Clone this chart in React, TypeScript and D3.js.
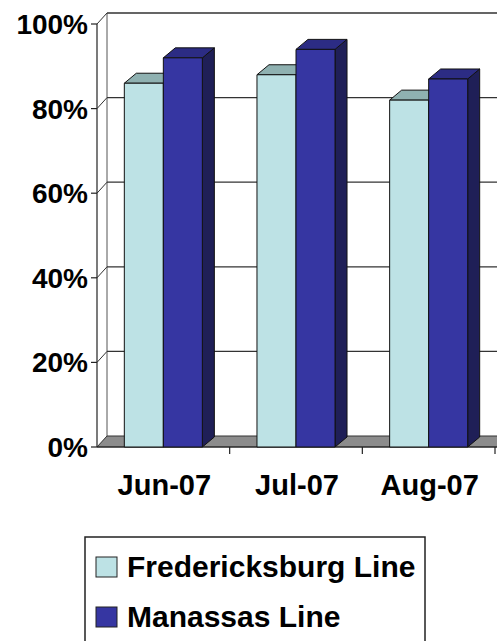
import React from "react";
import * as d3 from "d3";

const months = ["Jun-07", "Jul-07", "Aug-07"];
const seriesNames = ["Fredericksburg Line", "Manassas Line"];
const fredericksburg = [0.86, 0.88, 0.82];
const manassas = [0.92, 0.94, 0.87];
const yTicks = [0, 0.2, 0.4, 0.6, 0.8, 1.0];

const W = 497;
const H = 641;
const FONT = "'Liberation Sans', Arial, sans-serif";

const colors = [
  { front: "#bde2e5", top: "#8fb1b1", side: "#7a9c9c" },
  { front: "#3636a2", top: "#2c2c84", side: "#1f1f57" },
];

export default function App() {
  const y = d3.scaleLinear().domain([0, 1]).range([447, 24]);
  const x0 = d3.scaleBand<string>().domain(months).range([97, 495]).paddingInner(0).paddingOuter(0);
  const x1 = d3
    .scaleBand<string>()
    .domain(seriesNames)
    .range([0, x0.bandwidth()])
    .paddingInner(0)
    .paddingOuter(0.7);

  const wdx = 10, wdy = -11; // wall depth
  const bdx = 12, bdy = -10; // bar depth
  const leftX = x0.range()[0];
  const backX = leftX + wdx;
  const values = [fredericksburg, manassas];

  const fmt = d3.format(".0%");

  return (
    <svg width={W} height={H} style={{ position: "absolute", left: 0, top: 0, background: "#fff" }}>
      {/* back wall top & left edges */}
      <line x1={backX} x2={W} y1={y(1) + wdy} y2={y(1) + wdy} stroke="#333" strokeWidth={1.2} />
      <line x1={backX} x2={backX} y1={y(1) + wdy} y2={y(0) + wdy} stroke="#555" strokeWidth={1} />
      {/* gridlines */}
      {yTicks.filter((t) => t > 0).map((t) => (
        <g key={t}>
          <line x1={backX} x2={W} y1={y(t) + wdy} y2={y(t) + wdy} stroke="#333" strokeWidth={1.2} />
          <line x1={leftX} x2={backX} y1={y(t)} y2={y(t) + wdy} stroke="#333" strokeWidth={1} />
        </g>
      ))}
      {/* floor */}
      <polygon
        points={`${leftX},${y(0)} ${backX},${y(0) + wdy} ${W + 5},${y(0) + wdy} ${W + 5},${y(0)}`}
        fill="#8c8c8c"
        stroke="#333"
        strokeWidth={1}
      />
      {/* left axis */}
      <line x1={leftX} x2={leftX} y1={y(1)} y2={y(0)} stroke="#222" strokeWidth={1.2} />
      {yTicks.map((t) => (
        <g key={"t" + t}>
          <line x1={leftX - 6} x2={leftX} y1={y(t)} y2={y(t)} stroke="#222" strokeWidth={1.2} />
          <text
            x={88}
            y={y(t)}
            dy="0.36em"
            textAnchor="end"
            fontFamily={FONT}
            fontWeight="bold"
            fontSize={28}
            fill="#000"
          >
            {fmt(t)}
          </text>
        </g>
      ))}
      {/* bottom axis */}
      <line x1={leftX} x2={W} y1={y(0)} y2={y(0)} stroke="#222" strokeWidth={1.2} />
      {months.map((m, i) => (
        <line
          key={"xt" + m}
          x1={(x0(m) as number) + x0.bandwidth()}
          x2={(x0(m) as number) + x0.bandwidth()}
          y1={y(0)}
          y2={y(0) + 7}
          stroke="#222"
          strokeWidth={1.2}
        />
      ))}
      {/* bars */}
      {months.map((m, i) =>
        seriesNames.map((s, si) => {
          const v = values[si][i];
          const bx = (x0(m) as number) + (x1(s) as number);
          const bw = x1.bandwidth();
          const top = y(v);
          const bot = y(0);
          const c = colors[si];
          return (
            <g key={m + s} stroke="#111" strokeWidth={1} strokeLinejoin="round">
              <polygon
                points={`${bx + bw},${top} ${bx + bw + bdx},${top + bdy} ${bx + bw + bdx},${bot + bdy} ${bx + bw},${bot}`}
                fill={c.side}
              />
              <polygon
                points={`${bx},${top} ${bx + bdx},${top + bdy} ${bx + bw + bdx},${top + bdy} ${bx + bw},${top}`}
                fill={c.top}
              />
              <rect x={bx} y={top} width={bw} height={bot - top} fill={c.front} />
            </g>
          );
        })
      )}
      {/* x labels */}
      {months.map((m) => (
        <text
          key={"xl" + m}
          x={(x0(m) as number) + x0.bandwidth() / 2 + 1}
          y={495}
          textAnchor="middle"
          fontFamily={FONT}
          fontWeight="bold"
          fontSize={29}
          fill="#000"
        >
          {m}
        </text>
      ))}
      {/* legend */}
      <rect x={85} y={537} width={340} height={115} fill="#fff" stroke="#222" strokeWidth={1.5} />
      {seriesNames.map((s, si) => (
        <g key={"lg" + s}>
          <rect x={96} y={557 + si * 50} width={21} height={20} fill={colors[si].front} stroke="#222" strokeWidth={1} />
          <text
            x={127}
            y={577 + si * 50}
            fontFamily={FONT}
            fontWeight="bold"
            fontSize={30}
            fill="#000"
          >
            {s}
          </text>
        </g>
      ))}
    </svg>
  );
}
